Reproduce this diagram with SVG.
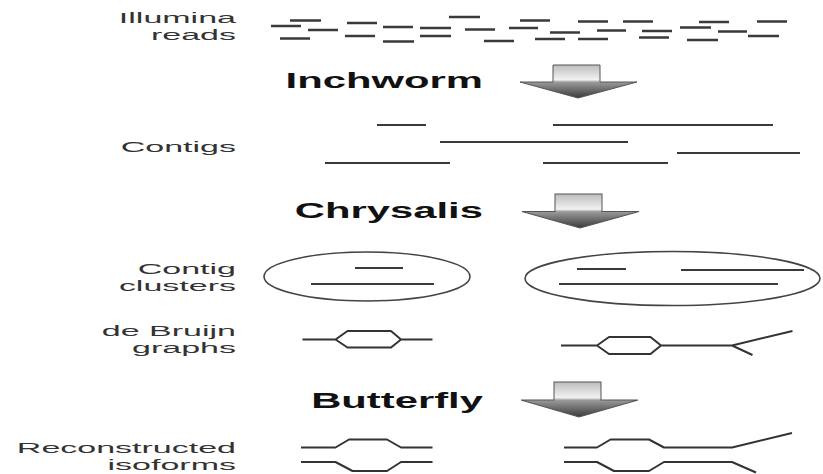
<svg xmlns="http://www.w3.org/2000/svg" width="823" height="474" viewBox="0 0 823 474">
<style>
.lbl{font-family:"Liberation Sans",Arial,sans-serif;font-size:15px;fill:#333;text-anchor:end}
.step{font-family:"Liberation Sans",Arial,sans-serif;font-size:22px;font-weight:bold;fill:#111;text-anchor:end}
.rd{fill:none;stroke:#3a3a3a;stroke-width:2.5}
.ln{fill:none;stroke:#3a3a3a;stroke-width:2}
.el{fill:none;stroke:#444;stroke-width:1.6}
.gr{fill:none;stroke:#333;stroke-width:2;stroke-linejoin:round}
.arr{fill:url(#ag);stroke:#555;stroke-width:1}
</style>
<defs>
<linearGradient id="ag" x1="0" y1="0" x2="0" y2="1">
<stop offset="0" stop-color="#bdbdbd"/>
<stop offset="0.45" stop-color="#f2f2f2"/>
<stop offset="0.52" stop-color="#9a9a9a"/>
<stop offset="1" stop-color="#3a3a3a"/>
</linearGradient>
<path id="arrow" d="M-25,0H22V17H59L0,33L-58,17H-25Z"/>
</defs>
<rect width="823" height="474" fill="#fff"/>

<g id="labels" transform="scale(2.267,1)">
<text class="lbl" x="104.1" y="23">Illumina<tspan x="104.1" y="40">reads</tspan></text>
<text class="lbl" x="104.1" y="152">Contigs</text>
<text class="lbl" x="104.1" y="274">Contig<tspan x="104.1" y="291">clusters</tspan></text>
<text class="lbl" x="104.1" y="336">de Bruijn<tspan x="104.1" y="353">graphs</tspan></text>
<text class="lbl" x="104.1" y="453">Reconstructed<tspan x="104.1" y="470">isoforms</tspan></text>
</g>

<g id="steps" transform="scale(1.9,1)">
<text class="step" x="254.2" y="88">Inchworm</text>
<text class="step" x="254.2" y="218">Chrysalis</text>
<text class="step" x="254.2" y="408">Butterfly</text>
</g>

<g id="reads">
<path class="rd" d="M271,26H301M290,20.5H321M308,30H338M280,38.5H310M347,23H377M345,36H375M383,27H413M383,41.5H414M420,28H451M420,36H451M449,17H480M465,29.5H495M484,41H514M509,28H538M520,20.5H550M535,39H565M550,32.5H580M578,21.5H608M578,39H608M597,30.5H626M623,21.5H653M639,37.5H669M642,31H672M680,27.5H711M687,40H718M699,22H729M718,31.5H747M748,36H779M757,21.5H787"/>
</g>

<g id="contigs">
<path class="ln" d="M377,125H426M553,125H773M440,142H628M677,153H800M325,163H450M543,163H668"/>
</g>

<g id="cluster1">
<ellipse class="el" cx="367" cy="276.5" rx="103" ry="24.5"/>
<path class="ln" d="M355,268H403M311,284H434"/>
</g>
<g id="cluster2">
<ellipse class="el" cx="672.5" cy="278.5" rx="147.5" ry="27"/>
<path class="ln" d="M577,269H626M681,270H804M559,284H778"/>
</g>

<g id="graph1">
<path class="gr" d="M302.5,339.5H335.5L347.5,331H391L401,339.5L391,347.5H347.5L335.5,339.5M401,339.5H432.5"/>
</g>
<g id="graph2">
<path class="gr" d="M561,345.5H597L609,337H650.5L661,345.5L650.5,354H609L597,345.5M661,345.5H732L792.5,331M732,345.5L752.5,355"/>
</g>

<g id="isoforms1">
<path class="gr" d="M301,447.5H335.5L349,439.5H387L401,447.5H432.5"/>
<path class="gr" d="M301,462H335.5L352.5,471H387L401,462H432.5"/>
</g>
<g id="isoforms2">
<path class="gr" d="M564,447.5H597L610.5,439.5H649L664,447.5H732L792,433"/>
<path class="gr" d="M564,462H597L614,471H649L664,462H732L756,472.5"/>
</g>

<g id="connectors">
<use href="#arrow" class="arr" transform="translate(578,65)"/>
<use href="#arrow" class="arr" transform="translate(580,194) scale(1,1.03)"/>
<use href="#arrow" class="arr" transform="translate(579,382) scale(1,1.06)"/>
</g>
</svg>
